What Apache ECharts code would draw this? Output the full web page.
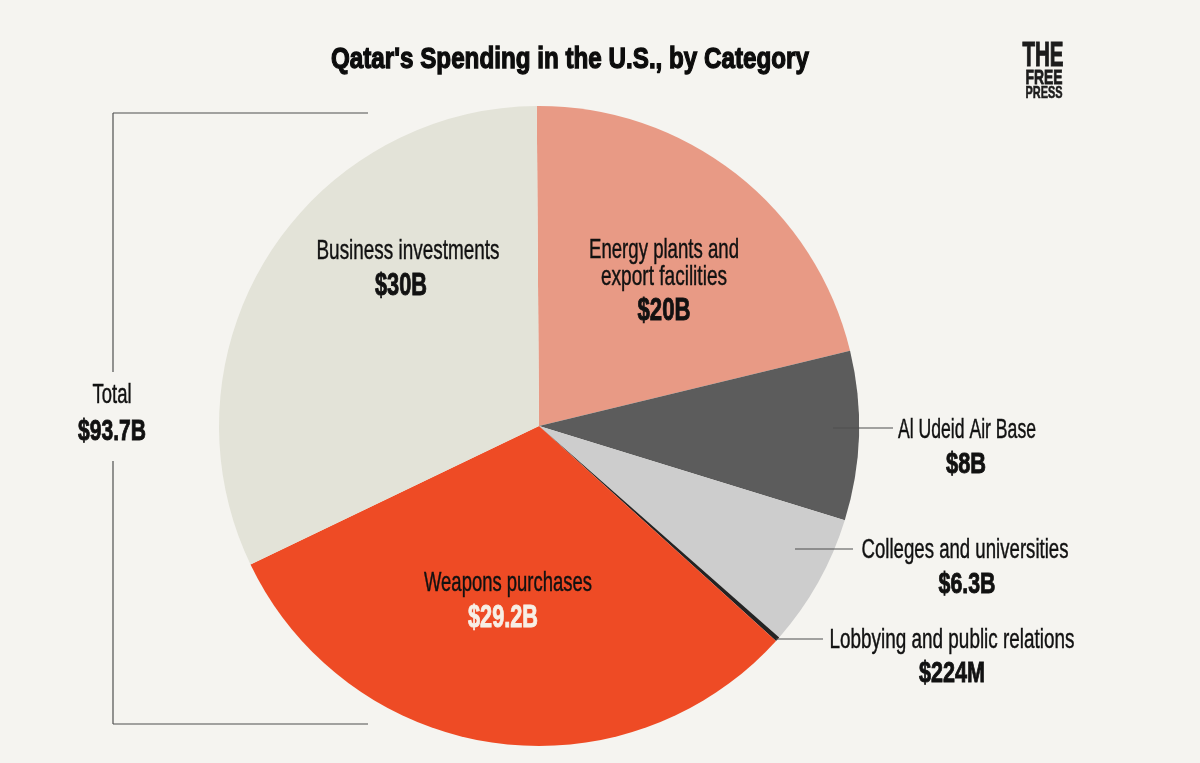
<!DOCTYPE html>
<html>
<head>
<meta charset="utf-8">
<style>html,body{margin:0;padding:0;background:#f5f4f0}#c{width:1200px;height:763px}</style>
<script src="https://cdn.jsdelivr.net/npm/echarts@6/dist/echarts.min.js"></script>
</head>
<body>
<div id="c"></div>
<script>
const categories = ['Energy plants and export facilities','Al Udeid Air Base','Colleges and universities','Lobbying and public relations','Weapons purchases','Business investments'];
const values = [20, 8, 6.3, 0.224, 29.2, 30];
const colors = ['#e89a85','#5c5c5c','#cdcdcd','#232323','#ee4b25','#e3e3d8'];
const titleText = "Qatar's Spending in the U.S., by Category";
const valueLabels = ['$20B','$8B','$6.3B','$224M','$29.2B','$30B'];
const FONT = '"Liberation Sans Narrow","Liberation Sans",sans-serif';

function txt(text, x, y, size, bold, targetW, fill, sw) {
  const ctx = document.createElement('canvas').getContext('2d');
  const font = (bold ? 'bold ' : '') + size + 'px ' + FONT;
  ctx.font = font;
  const sx = targetW ? targetW / ctx.measureText(text).width : 1;
  const w = sw !== undefined ? sw : (bold ? 0.9 : 0.45);
  return { type:'text', x, y, scaleX:sx, silent:true, z:10,
    style:{ text, font, fill: fill || '#111', align:'center', verticalAlign:'middle',
            stroke: fill || '#111', lineWidth: w } };
}
function line(x1,y1,x2,y2){
  return { type:'line', silent:true, z:9, shape:{x1,y1,x2,y2}, style:{stroke:'#4f4f4f',lineWidth:1.2} };
}
const graphics = [
  txt(titleText, 570, 60, 30, true, 478, '#0c0c0c', 1.3),
  txt('Business investments', 408, 251, 28, false, 183),
  txt(valueLabels[5], 401, 286, 31, true, 52),
  txt('Energy plants and', 664, 250, 28, false, 150),
  txt('export facilities', 664, 277, 28, false, 126),
  txt(valueLabels[0], 664, 311, 31, true, 53),
  txt('Al Udeid Air Base', 967, 431, 27, false, 138),
  txt(valueLabels[1], 966, 465, 30, true, 40),
  txt('Colleges and universities', 965, 551, 27, false, 207),
  txt(valueLabels[2], 967, 585, 30, true, 57),
  txt('Lobbying and public relations', 952, 641, 27, false, 245),
  txt(valueLabels[3], 952, 674, 30, true, 66),
  txt('Weapons purchases', 508, 583, 28, false, 168),
  txt(valueLabels[4], 503, 618, 31, true, 70, '#f7efe6'),
  txt('Total', 112, 396, 27, false, 39),
  txt('$93.7B', 112, 432, 30, true, 68),
  txt('THE', 1043, 56, 35, true, 41, '#1c1c1c', 1.2),
  txt('FREE', 1044, 78, 20, true, 37, '#1c1c1c', 0.8),
  txt('PRESS', 1044, 93, 17, true, 37, '#1c1c1c', 0.6),
  line(833,428,893,428),
  line(795,549,853,549),
  line(776,639,823,639),
  line(113,113,368,113),
  line(113,113,113,372),
  line(113,461,113,724),
  line(113,724,368,724)
];
const chart = echarts.init(document.getElementById('c'), null, {renderer:'canvas'});
chart.setOption({
  animation:false,
  backgroundColor:'#f5f4f0',
  series:[{
    type:'pie', center:[539,426], radius:[0,320], startAngle:90.4, clockwise:true,
    silent:true, label:{show:false}, labelLine:{show:false},
    data: categories.map((name,i)=>({name, value:values[i], itemStyle:{color:colors[i]}}))
  }],
  graphic: graphics
});
</script>
</body>
</html>
